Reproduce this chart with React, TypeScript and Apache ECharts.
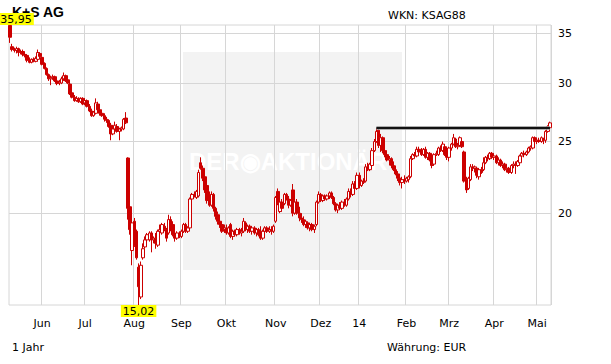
import React, { useEffect, useRef } from 'react';
import * as echarts from 'echarts';

// ---- data ----
const startDate = '2013-05-13';
const endDate = '2014-05-12';
const holidays = ['2013-12-24', '2013-12-25', '2013-12-26', '2013-12-31', '2014-01-01', '2014-04-18', '2014-04-21', '2014-05-01'];
const monthNames = ['14', 'Feb', 'Mrz', 'Apr', 'Mai', 'Jun', 'Jul', 'Aug', 'Sep', 'Okt', 'Nov', 'Dez'];
const yTicks = [20, 25, 30, 35];
const yMin = 15.02;
const yMax = 35.95;

const opens = [
  35.9, 33.6, 33.3, 33.2, 33.4, 33.0, 33.1, 32.8, 32.7, 32.2,
  32.0, 32.3, 32.1, 32.3, 32.9, 32.5, 31.9, 31.4, 30.8, 30.4,
  30.5, 30.6, 30.2, 30.0, 30.0, 30.4, 30.7, 30.3, 29.9, 29.1,
  28.7, 28.4, 28.6, 28.3, 28.6, 28.2, 28.4, 27.9, 27.5, 27.1,
  27.3, 28.1, 27.6, 27.3, 27.1, 26.8, 26.7, 26.3, 25.6, 26.0,
  26.2, 25.8, 26.0, 26.0, 26.9, 23.75, 20.4, 17.8, 19.5, 18.9,
  16.9, 15.4, 17.4, 18.0, 18.4, 18.4, 18.8, 18.4, 18.5, 18.1,
  18.9, 18.8, 19.2, 19.0, 18.8, 19.6, 19.3, 18.7, 18.5, 18.8,
  18.6, 18.9, 19.3, 18.9, 19.1, 20.9, 21.2, 21.0, 21.1, 23.4,
  23.0, 22.4, 21.8, 21.2, 20.5, 21.2, 20.3, 19.9, 19.5, 19.3,
  19.0, 19.1, 18.8, 19.3, 18.6, 18.9, 18.7, 19.0, 18.8, 18.9,
  19.4, 19.0, 19.2, 18.9, 19.1, 18.8, 19.0, 18.9, 18.5, 18.9,
  19.1, 18.9, 19.0, 18.9, 19.5, 21.4, 20.1, 20.7, 20.6, 21.2,
  20.9, 20.5, 21.5, 20.0, 20.7, 20.0, 19.7, 19.6, 19.3, 19.4,
  19.1, 19.3, 19.0, 19.3, 20.7, 21.2, 20.8, 21.1, 20.9, 21.1,
  21.3, 21.0, 20.6, 20.2, 20.5, 20.3, 20.7, 20.5, 20.9, 21.4,
  21.2, 21.9, 21.6, 22.5, 21.8, 22.1, 22.1, 23.1, 22.9, 23.2,
  24.3, 25.0, 25.9, 24.7, 25.3, 24.3, 24.0, 23.6, 23.7, 23.2,
  22.9, 22.6, 22.3, 22.0, 22.2, 22.1, 22.2, 22.4, 23.7, 24.0,
  23.9, 24.4, 24.2, 24.0, 24.4, 23.8, 24.1, 23.6, 23.3, 24.0,
  24.0, 24.5, 24.3, 24.6, 24.0, 23.8, 24.5, 24.8, 25.2, 24.6,
  24.7, 25.0, 24.2, 22.2, 21.6, 22.2, 23.1, 23.0, 23.0, 22.4,
  22.9, 22.9, 23.4, 23.8, 23.7, 24.1, 23.8, 23.9, 23.4, 23.6,
  23.2, 23.3, 22.9, 23.0, 22.7, 23.2, 23.3, 23.2, 23.4, 23.9,
  24.1, 24.0, 24.2, 24.5, 24.5, 25.3, 25.0, 25.1, 25.0, 25.2,
  25.1, 25.8, 26.1,
];
const closes = [
  34.6, 33.3, 33.2, 33.4, 33.0, 33.1, 32.8, 32.7, 32.2, 32.0,
  32.3, 32.1, 32.4, 33.0, 32.6, 31.8, 31.4, 30.8, 30.4, 30.5,
  30.6, 30.2, 29.95, 30.1, 30.4, 30.7, 30.2, 30.0, 29.0, 28.7,
  28.4, 28.6, 28.3, 28.6, 28.1, 28.4, 27.9, 27.5, 27.1, 27.4,
  28.2, 27.6, 27.3, 27.1, 26.8, 26.7, 26.2, 25.6, 26.0, 26.3,
  25.8, 26.0, 26.1, 26.8, 26.5, 20.3, 19.0, 19.4, 18.1, 17.4,
  15.9, 17.0, 17.9, 18.4, 18.7, 18.8, 18.4, 18.5, 18.2, 18.9,
  19.0, 19.3, 19.0, 18.5, 19.6, 19.1, 18.7, 18.5, 18.8, 18.6,
  18.9, 19.3, 18.9, 19.1, 20.9, 21.2, 21.1, 21.4, 22.7, 23.0,
  22.3, 21.5, 20.8, 20.5, 21.2, 20.3, 19.8, 19.5, 19.3, 18.9,
  19.1, 18.8, 19.1, 18.6, 18.9, 18.7, 19.0, 18.8, 18.9, 19.5,
  19.0, 19.2, 18.9, 19.1, 18.8, 19.0, 18.7, 18.5, 18.9, 19.1,
  18.9, 19.0, 18.9, 19.2, 21.0, 20.6, 20.7, 20.3, 21.2, 20.9,
  20.5, 20.8, 20.0, 20.7, 20.0, 19.7, 19.6, 19.3, 19.5, 19.1,
  19.3, 19.0, 19.2, 20.7, 21.2, 20.8, 21.1, 20.9, 21.1, 21.3,
  21.0, 20.6, 20.2, 20.5, 20.3, 20.7, 20.5, 20.9, 21.4, 21.2,
  21.9, 21.6, 22.5, 21.8, 22.1, 22.0, 23.1, 22.9, 23.3, 24.3,
  25.0, 25.8, 24.7, 25.3, 24.3, 24.0, 23.6, 23.7, 23.2, 22.9,
  22.6, 22.3, 22.0, 22.2, 22.1, 22.3, 22.4, 23.7, 24.0, 23.9,
  24.4, 24.2, 24.0, 24.4, 23.8, 24.1, 23.6, 23.2, 24.0, 24.1,
  24.5, 24.3, 24.8, 24.0, 23.8, 24.5, 24.8, 25.3, 24.6, 24.7,
  25.3, 24.6, 22.1, 21.5, 22.3, 23.1, 23.0, 23.1, 22.5, 22.9,
  22.7, 23.4, 23.8, 23.7, 24.1, 23.8, 23.9, 23.4, 23.6, 23.2,
  23.3, 22.9, 23.0, 22.7, 23.2, 23.3, 23.2, 23.5, 23.9, 24.1,
  24.0, 24.2, 24.5, 24.6, 25.3, 25.0, 25.1, 25.0, 25.3, 25.1,
  25.8, 26.2, 26.5,
];
const lows = [
  34.0, 33.1, 33.0, 32.9, 32.6, 32.8, 32.6, 32.5, 32.0, 31.9,
  31.9, 32.0, 32.0, 32.1, 32.4, 31.7, 31.3, 30.7, 30.2, 29.8,
  30.3, 30.1, 29.8, 29.8, 29.9, 30.2, 30.1, 29.9, 28.9, 28.6,
  28.3, 28.3, 28.2, 28.2, 28.0, 28.0, 27.8, 27.4, 27.0, 27.0,
  27.2, 27.5, 27.1, 27.0, 26.6, 26.5, 26.1, 25.1, 25.5, 25.8,
  25.7, 25.1, 25.8, 25.9, 26.4, 19.6, 18.7, 17.0, 18.0, 17.3,
  15.02, 15.3, 17.3, 17.9, 18.2, 18.3, 17.7, 18.2, 17.9, 18.0,
  18.7, 18.7, 18.9, 18.3, 18.7, 18.9, 18.6, 18.3, 18.4, 18.5,
  18.5, 18.8, 18.8, 18.8, 19.0, 20.8, 21.0, 20.9, 21.0, 22.9,
  22.1, 21.3, 20.6, 20.4, 20.4, 20.1, 19.6, 19.3, 19.1, 18.8,
  18.8, 18.7, 18.7, 18.5, 18.4, 18.6, 18.6, 18.7, 18.6, 18.8,
  18.9, 18.8, 18.8, 18.7, 18.7, 18.6, 18.6, 18.4, 18.4, 18.8,
  18.8, 18.8, 18.7, 18.8, 19.4, 20.5, 20.0, 20.1, 20.5, 20.8,
  20.3, 20.4, 19.8, 19.9, 19.9, 19.5, 19.4, 19.2, 19.1, 19.0,
  18.9, 18.9, 18.8, 19.2, 20.6, 20.7, 20.7, 20.8, 20.8, 20.9,
  20.9, 20.5, 20.1, 20.0, 20.2, 20.2, 20.4, 20.4, 20.8, 21.0,
  21.1, 21.4, 21.5, 21.6, 21.7, 21.9, 22.0, 22.8, 22.8, 23.1,
  24.2, 24.9, 24.5, 24.2, 24.1, 23.8, 23.5, 23.2, 23.0, 22.8,
  22.5, 22.1, 21.8, 21.6, 21.9, 22.0, 22.0, 22.3, 23.6, 23.8,
  23.8, 24.1, 23.9, 23.9, 23.7, 23.6, 23.5, 23.0, 23.2, 23.9,
  23.9, 24.2, 24.2, 23.9, 23.6, 23.5, 24.3, 24.7, 24.5, 24.4,
  24.6, 24.5, 22.0, 21.3, 21.5, 22.1, 22.8, 22.7, 22.3, 22.2,
  22.6, 22.8, 23.3, 23.5, 23.6, 23.7, 23.6, 23.3, 23.2, 23.1,
  23.0, 22.8, 22.7, 22.6, 22.6, 23.0, 22.6, 23.1, 23.3, 23.7,
  23.8, 23.9, 24.1, 24.3, 24.4, 24.9, 24.8, 24.9, 24.9, 24.8,
  24.9, 25.7, 26.0,
];
const highs = [
  35.95, 33.9, 33.5, 33.6, 33.5, 33.3, 33.3, 33.0, 32.8, 32.5,
  32.4, 32.5, 32.6, 33.3, 33.0, 32.6, 32.0, 31.5, 30.9, 30.7,
  30.8, 30.7, 30.4, 30.3, 30.6, 31.0, 30.8, 30.5, 30.0, 29.3,
  28.9, 28.8, 28.7, 28.7, 28.7, 28.6, 28.5, 28.1, 27.7, 27.5,
  28.6, 28.3, 27.8, 27.6, 27.3, 27.0, 26.8, 26.5, 26.3, 26.6,
  26.4, 26.1, 26.2, 26.9, 27.4, 23.8, 21.0, 19.6, 19.7, 19.0,
  17.1, 17.2, 18.2, 18.6, 18.8, 18.9, 18.9, 18.6, 18.8, 19.0,
  19.3, 19.4, 19.4, 19.1, 19.9, 19.8, 19.5, 18.9, 18.9, 18.9,
  19.0, 19.4, 19.4, 19.2, 21.0, 21.3, 21.4, 21.5, 22.9, 23.8,
  23.2, 22.6, 22.0, 21.4, 21.4, 21.3, 20.4, 20.1, 19.6, 19.4,
  19.3, 19.3, 19.2, 19.4, 19.0, 19.0, 19.1, 19.1, 19.1, 19.7,
  19.5, 19.3, 19.3, 19.2, 19.2, 19.1, 19.1, 19.2, 19.0, 19.2,
  19.2, 19.2, 19.2, 19.3, 21.1, 21.6, 20.8, 20.9, 21.3, 21.3,
  21.1, 20.9, 21.9, 20.9, 20.9, 20.4, 20.0, 19.8, 19.6, 19.5,
  19.4, 19.4, 19.3, 20.8, 21.4, 21.3, 21.2, 21.2, 21.2, 21.4,
  21.4, 21.1, 20.7, 20.6, 20.7, 20.8, 20.9, 21.0, 21.6, 21.6,
  22.1, 22.1, 22.7, 22.7, 22.2, 22.3, 23.3, 23.4, 23.4, 24.5,
  25.2, 26.05, 26.05, 25.6, 25.4, 24.6, 24.3, 23.9, 23.8, 23.5,
  23.2, 22.8, 22.5, 22.4, 22.5, 22.4, 22.5, 23.9, 24.1, 24.2,
  24.6, 24.6, 24.5, 24.5, 24.6, 24.2, 24.2, 23.7, 24.1, 24.3,
  24.6, 24.7, 25.0, 24.8, 24.1, 24.6, 24.9, 25.6, 25.3, 24.9,
  25.4, 25.2, 24.3, 22.4, 22.4, 23.3, 23.3, 23.2, 23.1, 23.0,
  23.1, 23.8, 23.9, 24.0, 24.2, 24.2, 24.0, 24.0, 23.8, 23.7,
  23.5, 23.4, 23.2, 23.1, 23.3, 23.5, 23.5, 23.6, 24.0, 24.2,
  24.3, 24.3, 24.6, 24.7, 25.4, 25.4, 25.2, 25.3, 25.4, 25.3,
  25.9, 26.3, 26.6,
];

const maxMark = { index: 0, value: 35.95, text: '35,95' };
const minMark = { index: 60, value: 15.02, text: '15,02' };
const resistance = { from: 171, value: 26.08 };

function tradingDays(): string[] {
  const out: string[] = [];
  const d = new Date(startDate + 'T00:00:00Z');
  const e = new Date(endDate + 'T00:00:00Z');
  while (d <= e) {
    const wd = d.getUTCDay();
    const s = d.toISOString().slice(0, 10);
    if (wd !== 0 && wd !== 6 && holidays.indexOf(s) < 0) out.push(s);
    d.setUTCDate(d.getUTCDate() + 1);
  }
  return out;
}

const dates = tradingDays();

function isMonthStart(index: number): boolean {
  if (index <= 0) return false;
  return dates[index].slice(5, 7) !== dates[index - 1].slice(5, 7);
}

const FONT = 'DejaVu Sans';
const GRID_COLOR = '#d6d6d6';
const RED = '#cc0000';

export default function App() {
  const ref = useRef<HTMLDivElement>(null);
  useEffect(() => {
    if (!ref.current) return;
    const chart = echarts.init(ref.current, undefined, { renderer: 'svg' });
    const data = dates.map((_, i) => [opens[i], closes[i], lows[i], highs[i]]);
    const resistanceData = dates.map((_, i) => (i >= resistance.from ? resistance.value : null));
    const option: any = {
      animation: false,
      backgroundColor: '#ffffff',
      textStyle: { fontFamily: FONT },
      grid: {
        left: 9, right: 60, top: 25, bottom: 59,
        show: true, borderColor: GRID_COLOR, borderWidth: 1, backgroundColor: 'transparent',
      },
      xAxis: {
        type: 'category',
        data: dates,
        boundaryGap: true,
        axisLine: { show: false },
        axisTick: { show: false },
        axisLabel: {
          interval: (i: number) => isMonthStart(i),
          formatter: (v: string) => monthNames[parseInt(v.slice(5, 7), 10) - 1],
          color: '#000', fontSize: 11, fontFamily: FONT, margin: 13, lineHeight: 11,
        },
        splitLine: { show: true, interval: (i: number) => isMonthStart(i), lineStyle: { color: GRID_COLOR, width: 1 } },
      },
      yAxis: {
        type: 'log',
        logBase: 10,
        position: 'right',
        min: yMin,
        max: yMax,
        axisLine: { show: false },
        axisTick: { show: false, customValues: yTicks },
        axisLabel: {
          customValues: yTicks,
          formatter: (v: number) => String(Math.round(v)),
          color: '#000', fontSize: 11, fontFamily: FONT, margin: 7,
        },
        splitLine: { show: true, lineStyle: { color: GRID_COLOR, width: 1 } },
      },
      series: [
        {
          type: 'candlestick',
          data,
          barWidth: 3,
          itemStyle: { color: '#ffffff', color0: RED, borderColor: RED, borderColor0: RED, borderWidth: 1 },
          markPoint: {
            symbol: 'rect',
            symbolSize: 0,
            silent: true,
            label: {
              show: true,
              formatter: (p: any) => p.data.name,
              backgroundColor: '#ffff00',
              color: '#000',
              fontSize: 11,
              fontFamily: FONT,
              padding: [1, 2, 0, 2],
              lineHeight: 11,
            },
            data: [
              { name: maxMark.text, coord: [dates[maxMark.index], maxMark.value], label: { position: 'top', distance: 0, offset: [6, 0] } },
              { name: minMark.text, coord: [dates[minMark.index], minMark.value], label: { position: 'bottom', distance: 0 } },
            ],
          },
        },
        {
          type: 'line',
          data: resistanceData,
          symbol: 'none',
          silent: true,
          connectNulls: false,
          z: 4,
          lineStyle: { color: '#9a9a9a', width: 4, opacity: 0.8 },
        },
        {
          type: 'line',
          data: resistanceData,
          symbol: 'none',
          silent: true,
          connectNulls: false,
          z: 5,
          lineStyle: { color: '#111111', width: 2 },
        },
      ],
      graphic: [
        { type: 'rect', z: -10, silent: true, shape: { x: 183, y: 52, width: 219, height: 218 }, style: { fill: '#f3f3f3' } },
        { type: 'text', z: -9, silent: true, x: 189, y: 161, style: { text: 'DER◉AKTIONÄR', fill: '#ffffff', font: 'bold 24px "Liberation Sans"', align: 'left', verticalAlign: 'middle' } },
        { type: 'text', z: 5, silent: true, x: 12, y: 12, style: { text: 'K+S AG', fill: '#000', font: 'bold 14px "Liberation Sans"', align: 'left', verticalAlign: 'middle' } },
        { type: 'text', z: 5, silent: true, x: 388, y: 15, style: { text: 'WKN: KSAG88', fill: '#000', font: '11px "DejaVu Sans"', align: 'left', verticalAlign: 'middle' } },
        { type: 'text', z: 5, silent: true, x: 12, y: 347, style: { text: '1 Jahr', fill: '#000', font: '11px "DejaVu Sans"', align: 'left', verticalAlign: 'middle' } },
        { type: 'text', z: 5, silent: true, x: 387, y: 347, style: { text: 'Währung: EUR', fill: '#000', font: '11px "DejaVu Sans"', align: 'left', verticalAlign: 'middle' } },
      ],
    };
    chart.setOption(option);
    return () => chart.dispose();
  }, []);
  return <div ref={ref} style={{ position: 'fixed', left: 0, top: 0, width: 611, height: 364 }} />;
}
